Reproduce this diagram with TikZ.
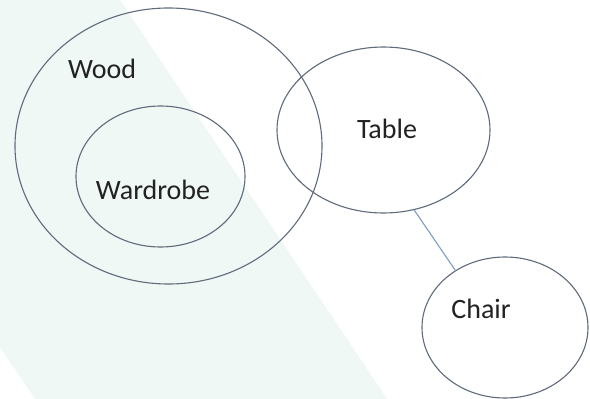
\documentclass[tikz,border=0pt]{standalone}
\usepackage{fontspec}
\setmainfont{Carlito}
\usetikzlibrary{shapes.geometric}
\definecolor{bandc}{HTML}{EFF8F5}
\definecolor{ringc}{HTML}{5F6B7A}
\definecolor{linkc}{HTML}{7F9CC0}
\definecolor{textc}{HTML}{222222}
\tikzset{
  ring/.style={ellipse, draw=ringc, line width=1.1pt, inner sep=0pt},
  lbl/.style={anchor=base, text=textc, font=\fontsize{28}{30}\selectfont, inner sep=0pt},
  link/.style={draw=linkc, line width=1.1pt}
}
\begin{document}
\begin{tikzpicture}[x=1pt,y=-1pt]
\useasboundingbox (0,0) rectangle (590,399);
\fill[white] (0,0) rectangle (590,399);
\fill[bandc] (0,0) -- (120,0) -- (387,399) -- (35,399) -- (0,347) -- cycle;
\node[ring, minimum width=307pt, minimum height=276pt] (wood) at (168.5,146) {};
\node[ring, minimum width=169pt, minimum height=141pt] (wardrobe) at (160.5,176.5) {};
\node[ring, minimum width=213pt, minimum height=166pt] (table) at (383.5,130) {};
\node[ring, minimum width=166pt, minimum height=141pt] (chair) at (505,327.5) {};
\node[lbl] (woodl) at (102,78) {Wood};
\node[lbl] (wardrobel) at (153,199) {Wardrobe};
\node[lbl] (tablel) at (387,138) {Table};
\node[lbl] (chairl) at (481,318) {Chair};
\draw[link] (table.-69) -- (chair.131);
\end{tikzpicture}
\end{document}
